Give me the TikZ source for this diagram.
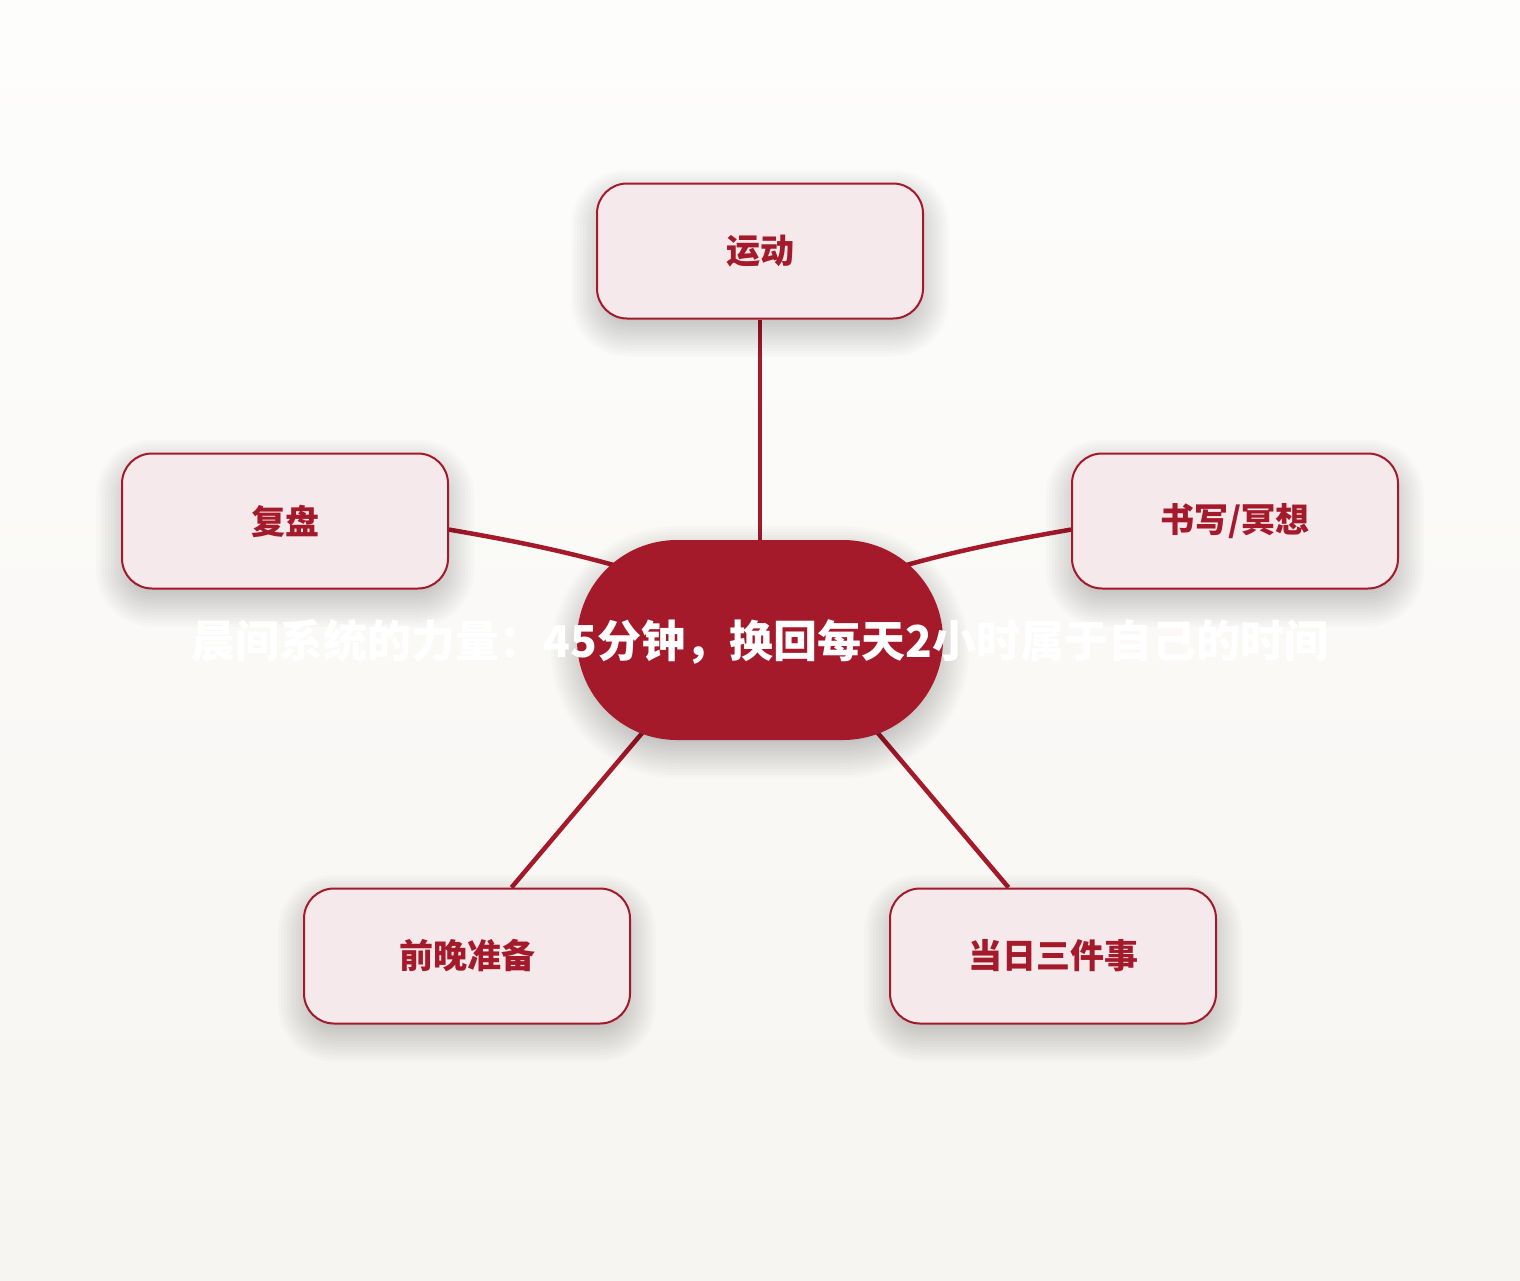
\documentclass[tikz,border=0pt]{standalone}
\usepackage{fontspec}
\usepackage{tikz}
\newfontfamily\cjk{Noto Sans CJK SC}
\definecolor{hubRed}{HTML}{A51A2A}
\definecolor{leafFill}{HTML}{F5E9EC}
\definecolor{bgTop}{HTML}{FDFDFC}
\definecolor{bgBottom}{HTML}{F7F5F1}
\pgfdeclarelayer{backdrop}
\pgfdeclarelayer{links}
\pgfdeclarelayer{shade}
\pgfsetlayers{backdrop,links,shade,main}

\begin{document}
\begin{tikzpicture}[x=1pt, y=1pt, line cap=round, line join=round,
	leaf/.style={draw=hubRed, line width=2pt, fill=leafFill, rounded corners=30pt, minimum width=326pt, minimum height=135pt, text=hubRed, font=\cjk\bfseries\fontsize{34}{40}\selectfont},
	hub/.style={fill=hubRed, rounded corners=100pt, minimum width=366pt, minimum height=200pt, inner sep=0pt},
	hubText/.style={text=white, inner sep=0pt, font=\cjk\bfseries\fontsize{44}{52}\selectfont},
	link/.style={draw=hubRed, line width=4.5pt}]
	\begin{pgfonlayer}{backdrop}
		\fill[top color=bgTop, bottom color=bgBottom] (0,0) rectangle (1520,-1280);
	\end{pgfonlayer}
	\node[hub] (hub) at (760,-640) {};
	\node[hubText] (title) at ([yshift=-2pt]hub.center) {晨间系统的力量：45分钟，换回每天2小时属于自己的时间};
	\node[leaf] (sport) at (760,-251) {运动};
	\node[leaf] (review) at (285,-521) {复盘};
	\node[leaf] (write) at (1235,-521) {书写/冥想};
	\node[leaf] (prep) at (467,-956) {前晚准备};
	\node[leaf] (tasks) at (1053,-956) {当日三件事};
	\begin{pgfonlayer}{shade}
		\foreach \name/\halfW/\halfH/\corner in {hub/183/100/100, sport/163/67.5/30, review/163/67.5/30, write/163/67.5/30, prep/163/67.5/30, tasks/163/67.5/30} {
			\foreach \i in {0, ..., 12} {
				\pgfmathsetmacro{\grow}{\i * 3 - 10}
				\pgfmathsetmacro{\bend}{\corner + \grow}
				\pgfmathsetmacro{\wide}{\halfW + \grow}
				\pgfmathsetmacro{\upper}{\halfH - 12 + \grow}
				\pgfmathsetmacro{\lower}{\halfH + 12 + \grow}
				\fill[black, opacity=0.017, rounded corners=\bend pt]
					([shift={(-\wide, -\lower)}]\name.center) rectangle ([shift={(\wide, \upper)}]\name.center);
			}
		}
	\end{pgfonlayer}
	\begin{pgfonlayer}{links}
		\draw[link] (hub) -- (sport);
		\draw[link] ([shift={(-60,49)}]hub.center) to[bend right=4] (review.-3);
		\draw[link] ([shift={(60,49)}]hub.center) to[bend left=4] (write.183);
		\draw[link] ([shift={(-73,-40)}]hub.center) -- (prep.57);
		\draw[link] ([shift={(73,-40)}]hub.center) -- (tasks.123);
	\end{pgfonlayer}
\end{tikzpicture}
\end{document}
